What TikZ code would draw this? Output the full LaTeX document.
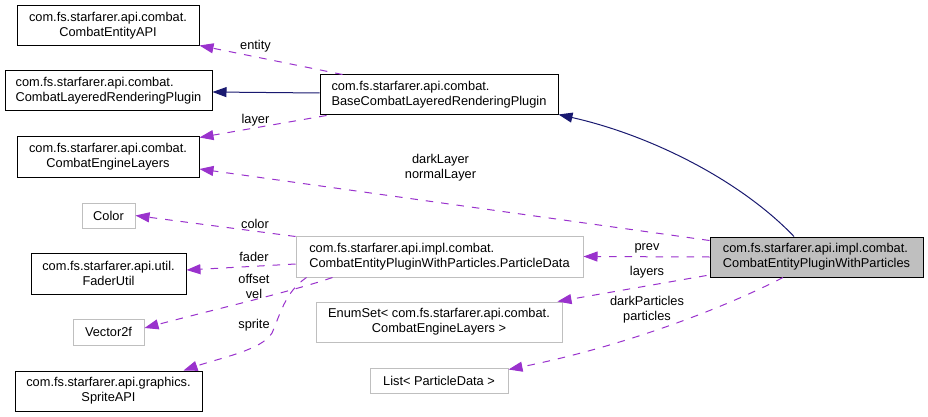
\documentclass[tikz,border=0pt]{standalone}
\usepackage{fontspec}
\setmainfont{Liberation Sans}
\usetikzlibrary{arrows.meta,calc}
\definecolor{edgepurple}{HTML}{9A32CD}
\definecolor{edgenavy}{HTML}{191970}
\definecolor{boxgray}{HTML}{BFBFBF}
\begin{document}
\begin{tikzpicture}[x=1pt,y=-1pt,
  font=\fontsize{12.8}{15}\selectfont,
  cls/.style={draw=black, line width=1pt, inner sep=0pt, minimum height=40pt},
  ext/.style={draw=boxgray, line width=1pt, inner sep=0pt, minimum height=40pt},
  focus/.style={draw=black, fill=boxgray, line width=1pt, inner sep=0pt, minimum height=40pt},
  lbl/.style={inner sep=0pt, align=center, font=\fontsize{12.8}{14.5}\selectfont},
  inh/.style={draw=edgenavy, line width=1pt, -{Triangle[length=14pt,width=10pt,fill=edgenavy]}},
  uses/.style={draw=edgepurple, line width=1pt, dash pattern=on 7.5pt off 8pt, -{Triangle[length=14pt,width=10pt,fill=edgepurple]}}]
\useasboundingbox[fill=white] (0,0) rectangle (928,417);

% nodes
\node[cls, minimum width=182pt, align=center] (ceapi) at (108,26) {com.fs.starfarer.api.combat.\\CombatEntityAPI};
\node[cls, minimum width=207pt, align=left] (clrp) at (108.5,91) {com.fs.starfarer.api.combat.\\CombatLayeredRenderingPlugin};
\node[cls, minimum width=182pt, minimum height=41pt, align=center] (cel) at (108,156.5) {com.fs.starfarer.api.combat.\\CombatEngineLayers};
\node[ext, minimum width=53pt, minimum height=25pt] (color) at (108.5,215.5) {Color};
\node[cls, minimum width=155pt, minimum height=41pt, align=center] (fader) at (108.5,273.5) {com.fs.starfarer.api.util.\\FaderUtil};
\node[ext, minimum width=71pt, minimum height=26pt] (vec) at (108.5,332) {Vector2f};
\node[cls, minimum width=187pt, align=center] (sprite) at (108.5,391) {com.fs.starfarer.api.graphics.\\SpriteAPI};
\node[cls, minimum width=238pt, align=left] (base) at (439,95) {com.fs.starfarer.api.combat.\\BaseCombatLayeredRenderingPlugin};
\node[ext, minimum width=287pt, minimum height=41pt, align=left] (pd) at (439.5,256.5) {com.fs.starfarer.api.impl.combat.\\CombatEntityPluginWithParticles.ParticleData};
\node[ext, minimum width=246pt, align=center] (enum) at (439,322) {EnumSet< com.fs.starfarer.api.combat.\\CombatEngineLayers >};
\node[ext, minimum width=138pt, minimum height=25pt] (list) at (439,380.5) {List< ParticleData >};
\node[focus, minimum width=213pt, align=left] (cepwp) at (816.5,257) {com.fs.starfarer.api.impl.combat.\\CombatEntityPluginWithParticles};

% inheritance
\draw[inh] ($(base.west)+(0,-2)$) -- ($(clrp.east)+(0,1)$);
\draw[inh] ($(cepwp.north)+(-22.5,0)$) .. controls (740,180) and (650,135) .. ($(base.south east)+(0,-1)$);

% usage
\draw[uses] ($(base.north west)+(23,0)$) -- ($(ceapi.south east)+(0,-1)$);
\draw[uses] ($(base.south west)+(7,0)$) -- ($(cel.north east)+(0,2)$);
\draw[uses] ($(cepwp.north west)+(0,4)$) -- ($(cel.east)+(0,12.5)$);
\draw[uses] (cepwp.west) -- (pd.east);
\draw[uses] ($(cepwp.south west)+(-3,-2)$) -- ($(enum.north east)+(-5,0)$);
\draw[uses] ($(cepwp.south)+(-33.5,0)$) .. controls (730,305) and (630,345) .. ($(list.north east)+(0,2)$);
\draw[uses] ($(pd.north west)+(0,1)$) -- (color.east);
\draw[uses] ($(pd.west)+(0,7.5)$) -- ($(fader.east)+(0,-3.5)$);
\draw[uses] ($(pd.south west)+(37,0)$) .. controls (290,292) and (220,308) .. ($(vec.east)+(0,-4)$);
\draw[uses] ($(pd.south west)+(11,0)$) .. controls (285,292) and (280,315) .. (272,333)
  .. controls (262,350) and (220,358) .. ($(sprite.north east)+(-19,0)$);

% labels
\node[lbl] (l-entity) at (255.5,46.5) {entity};
\node[lbl] (l-layer) at (255.5,120.5) {layer};
\node[lbl] (l-dl) at (440.5,167.5) {darkLayer\\normalLayer};
\node[lbl] (l-prev) at (647,248) {prev};
\node[lbl] (l-layers) at (647,272) {layers};
\node[lbl] (l-dp) at (647,309.5) {darkParticles\\particles};
\node[lbl] (l-color) at (255,224) {color};
\node[lbl] (l-fader) at (254,257) {fader};
\node[lbl] (l-ov) at (254,286.5) {offset\\vel};
\node[lbl] (l-sprite) at (254,325) {sprite};
\end{tikzpicture}
\end{document}
